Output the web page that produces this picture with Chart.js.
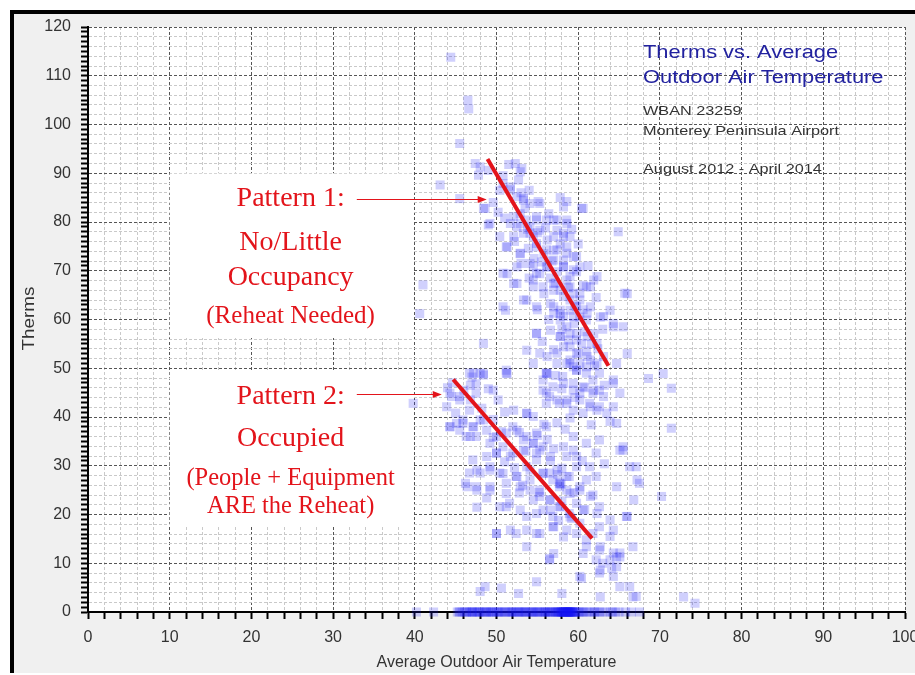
<!DOCTYPE html>
<html>
<head>
<meta charset="utf-8">
<title>Therms vs. Average Outdoor Air Temperature</title>
<script src="https://cdn.jsdelivr.net/npm/chart.js@4.4.0/dist/chart.umd.min.js"></script>
<style>
  html, body { margin: 0; padding: 0; background: #fff; overflow: hidden; }
  #chart { display: block; }
</style>
</head>
<body>
<canvas id="chart" width="915" height="675"></canvas>
<script>
'use strict';

// ---- data (temperature in degF, gas use in therms) ----

const xTickLabels = [0, 10, 20, 30, 40, 50, 60, 70, 80, 90, 100];
const yTickLabels = [0, 10, 20, 30, 40, 50, 60, 70, 80, 90, 100, 110, 120];

// upper cloud: little / no occupancy
const pattern1Temp = [
  44.4, 46.5, 46.6, 45.5, 43.1, 45.5, 47.4, 47.8, 49.0, 50.4,
  52.3, 53.1, 48.4, 49.0, 52.7, 51.7, 53.3, 53.5, 51.7, 52.5,
  52.1, 53.3, 54.1, 54.9, 55.3, 56.4, 57.0, 58.2, 58.6, 60.4,
  57.4, 58.2, 56.2, 51.3, 52.9, 53.9, 54.9, 55.8, 57.0, 58.6,
  59.4, 54.5, 55.3, 56.2, 57.4, 58.2, 59.0, 59.8, 51.3, 52.5,
  54.5, 55.8, 57.0, 58.2, 59.4, 60.2, 61.0, 61.9, 51.1, 53.7,
  57.0, 57.8, 59.0, 60.2, 61.5, 62.7, 63.9, 64.9, 66.0, 40.6,
  41.0, 58.6, 59.8, 57.8, 59.0, 60.4, 61.9, 64.3, 48.4, 54.9,
  56.2, 57.4, 58.6, 59.8, 61.5, 63.1, 64.7, 66.0, 51.3, 48.4,
  47.0, 56.2, 68.6, 70.4, 54.5, 61.0, 57.8, 52.5, 50.4, 52.9,
  54.5, 58.6,
  53.8, 55.0, 56.0, 57.8, 56.8, 55.5, 57.2, 58.8, 59.6, 60.6,
  58.0, 59.5, 60.8, 61.6, 60.0, 61.0, 62.4, 58.8, 57.0, 55.6,
  56.4, 55.0, 54.0, 53.0, 52.2, 51.0, 50.2, 49.6, 50.8, 51.5,
  54.0, 53.0, 57.8, 59.2, 60.0, 61.2, 60.6, 62.2, 63.0, 58.2,
  56.6, 54.6
];
const pattern1Therms = [
  113.8, 105.0, 103.2, 96.1, 87.6, 84.8, 92.0, 89.6, 90.6, 86.5,
  92.0, 91.0, 82.8, 79.4, 88.6, 87.2, 84.8, 82.8, 79.7, 79.0,
  77.0, 77.7, 79.0, 80.4, 83.8, 81.7, 80.4, 83.1, 80.4, 82.8,
  78.3, 77.0, 76.3, 74.9, 73.5, 74.6, 75.6, 73.5, 74.2, 74.9,
  72.9, 70.8, 69.4, 70.8, 69.8, 70.8, 68.8, 69.8, 69.4, 67.4,
  66.7, 65.3, 66.0, 64.7, 65.3, 64.0, 66.7, 68.1, 61.9, 64.0,
  62.6, 61.2, 61.9, 60.5, 62.6, 60.5, 61.9, 78.0, 65.3, 61.2,
  67.1, 58.5, 57.1, 56.5, 54.4, 55.1, 57.1, 58.5, 55.1, 57.1,
  52.4, 51.0, 51.0, 49.6, 51.7, 52.4, 51.0, 53.0, 48.9, 48.9,
  48.2, 48.9, 47.9, 48.9, 51.0, 59.9, 59.9, 70.8, 77.0, 81.7,
  77.0, 68.1,
  78.5, 77.8, 78.8, 75.5, 72.0, 71.8, 67.5, 66.5, 62.8, 62.0,
  58.0, 59.2, 57.5, 55.0, 53.0, 53.5, 54.0, 55.8, 53.8, 55.5,
  60.0, 62.0, 68.5, 71.5, 76.0, 80.8, 82.0, 84.0, 89.5, 91.8,
  86.5, 86.0, 85.0, 78.5, 75.5, 71.0, 67.0, 64.5, 58.0, 72.2,
  68.5, 72.5
];

// more days in the dense part of the upper cloud
const cloud1Temp = [
  52.9, 50.8, 51.7, 52.5, 53.3, 54.1, 55.1, 58.6, 60.6, 48.6,
  49.2, 52.1, 52.9, 53.7, 54.9, 56.1, 57.4, 58.6, 54.1, 55.3,
  57.0, 58.2, 59.0, 51.2, 52.9, 54.9, 56.1, 57.4, 58.6, 59.8,
  54.1, 54.9, 56.1, 57.0, 58.2, 59.4, 60.2, 50.8, 52.1, 54.5,
  55.7, 57.0, 57.8, 59.0, 60.2, 61.5, 62.3, 50.8, 53.3, 54.9,
  56.6, 57.8, 59.0, 59.8, 61.1, 57.0, 58.2, 59.4, 63.1, 64.3,
  65.5, 65.7, 54.9, 56.6, 57.8, 59.0, 59.8, 61.1, 62.3, 53.7,
  55.3, 57.4, 58.2, 59.8, 59.0, 61.1, 48.0
];
const cloud1Therms = [
  90.3, 87.9, 86.6, 85.2, 84.5, 83.8, 84.2, 84.2, 82.8, 82.8,
  79.7, 81.1, 79.7, 80.4, 81.1, 80.4, 80.4, 79.7, 77.7, 78.3,
  77.0, 77.7, 77.0, 74.9, 73.6, 74.9, 74.3, 74.3, 73.6, 72.9,
  71.5, 69.5, 70.8, 72.2, 70.8, 70.2, 70.8, 69.5, 67.4, 68.1,
  66.7, 67.4, 66.0, 66.7, 65.4, 66.7, 68.8, 62.6, 64.0, 62.6,
  63.3, 61.9, 64.0, 62.6, 61.3, 61.3, 60.6, 60.6, 60.6, 59.2,
  58.5, 65.4, 57.2, 57.8, 56.5, 57.2, 55.8, 56.5, 55.1, 53.7,
  53.1, 53.1, 54.4, 53.1, 51.7, 52.4, 91.3
];

// lower cloud: occupied
const pattern2Temp = [
  56.1, 56.9, 58.1, 59.4, 60.2, 61.0, 61.8, 62.6, 64.3, 56.5,
  58.6, 60.2, 61.4, 62.6, 59.4, 60.6, 63.9, 55.7, 61.8, 57.7,
  62.6, 59.4, 56.1,
  44.5, 45.5, 46.7, 47.5, 47.1, 44.3, 45.9, 48.0, 46.7, 51.2,
  39.8, 48.4, 45.5, 47.5,
  49.2, 50.0, 49.2, 46.7, 47.5, 49.2, 50.8, 52.0, 53.3, 54.5,
  55.7, 54.9, 53.7, 52.4, 51.2, 51.6, 50.4, 54.1, 55.3, 56.5,
  56.9, 57.7, 58.6, 56.5, 57.7, 58.9, 59.8, 60.2, 61.0, 62.6,
  60.2, 58.6, 56.9, 54.9, 53.7, 52.4, 50.0, 53.7, 61.0, 56.5,
  54.9, 58.6, 59.8, 61.4, 62.2, 62.6, 65.1, 65.5, 64.7, 65.9,
  64.3, 63.9, 62.6, 67.1, 67.5, 70.2, 71.4, 71.4, 57.7, 57.9,
  55.7, 54.5, 53.7, 59.4, 61.0, 59.4, 43.9, 45.1, 46.3, 48.8,
  50.4, 47.1, 48.0, 52.8, 54.5, 55.7, 56.9, 64.3, 65.1,
  46.0, 47.5, 49.0, 50.2, 51.0, 52.0, 50.6, 49.6, 52.8, 53.6,
  55.0, 56.2, 57.0, 56.6, 58.0, 58.9, 57.5, 59.5, 58.0, 60.8,
  59.2, 57.6, 55.2, 53.2, 52.2, 51.0, 49.6, 48.2, 46.8, 44.6,
  45.0, 44.0, 48.8, 47.6, 46.2, 61.8, 62.2, 63.2, 60.5, 55.8,
  57.4, 59.0, 58.4, 61.6, 63.2, 62.0, 60.8, 59.6, 58.0, 57.2
];
const pattern2Therms = [
  49.0, 46.2, 48.3, 50.3, 51.0, 49.0, 47.6, 45.5, 47.6, 44.2,
  43.5, 44.9, 42.8, 42.1, 41.4, 40.8, 39.1, 45.5, 44.9, 42.8,
  49.0, 46.9, 42.8,
  44.2, 43.5, 41.4, 44.9, 38.0, 38.0, 39.4, 49.0, 49.0, 49.6,
  42.8, 39.4, 37.3, 36.0,
  34.6, 32.6, 29.1, 28.5, 25.7, 25.0, 33.9, 32.6, 35.3, 34.6,
  33.9, 31.2, 29.8, 27.8, 26.4, 22.3, 21.6, 27.1, 25.0, 28.5,
  27.1, 26.4, 25.0, 23.0, 21.6, 20.2, 22.3, 25.7, 27.1, 21.6,
  18.2, 16.8, 17.5, 16.1, 19.6, 16.1, 16.1, 13.4, 13.4, 10.7,
  32.6, 31.9, 29.8, 29.8, 32.6, 35.3, 33.2, 33.9, 25.7, 19.6,
  16.8, 18.9, 17.5, 29.8, 26.4, 23.7, 45.9, 37.7, 25.7, 26.2,
  28.5, 40.1, 40.8, 36.0, 34.6, 33.2, 42.1, 38.7, 36.0, 31.9,
  28.5, 31.2, 28.5, 24.4, 23.0, 20.9, 19.6, 42.1, 44.9,
  45.5, 46.8, 45.8, 43.5, 41.0, 38.0, 37.0, 39.5, 36.8, 33.0,
  36.2, 35.4, 33.5, 31.0, 29.5, 27.8, 28.2, 24.5, 22.8, 21.0,
  19.2, 18.8, 24.5, 26.0, 29.6, 30.8, 35.8, 41.8, 46.5, 47.0,
  40.8, 46.0, 23.4, 21.5, 26.4, 24.0, 27.8, 30.4, 31.0, 38.5,
  38.8, 39.8, 37.5, 38.4, 46.5, 50.5, 46.0, 44.0, 45.8, 48.5
];

// more days in the dense part of the lower cloud
const cloud2Temp = [
  56.1, 59.0, 59.8, 61.0, 62.3, 58.2, 59.4, 60.6, 61.9, 63.1,
  64.3, 56.1, 57.4, 58.6, 60.2, 61.5, 62.3, 63.5, 55.7, 64.7,
  66.3, 67.2, 65.5, 66.0, 66.8, 44.3, 45.5, 46.8, 47.2, 48.4,
  51.2, 49.6, 44.3, 45.9, 47.2, 48.0, 48.8, 46.8, 50.0, 51.2,
  52.5, 53.7, 54.9, 53.7, 52.1, 56.1, 50.0, 51.7, 53.3, 54.5,
  55.3, 56.6, 58.2, 59.8, 47.6, 49.2, 50.8, 52.5, 54.1, 55.7,
  57.4, 58.6, 46.4, 47.6, 49.2, 51.2, 52.9, 54.1, 55.3, 56.6,
  57.8, 59.0, 60.2, 61.5, 51.2, 52.9, 54.9, 56.6, 57.8, 59.0,
  60.6, 62.3, 50.0, 51.7, 53.7, 55.3, 57.0, 58.2, 59.8, 61.0,
  57.0, 60.6, 62.7, 64.7
];
const cloud2Therms = [
  49.0, 51.0, 49.6, 50.3, 51.0, 46.9, 45.5, 46.2, 45.5, 44.2,
  46.9, 44.9, 43.5, 42.8, 43.5, 42.1, 41.4, 40.8, 47.6, 38.7,
  29.8, 27.1, 33.2, 19.6, 23.0, 44.9, 44.2, 43.5, 49.0, 48.6,
  49.0, 45.5, 38.0, 38.7, 38.0, 39.4, 37.3, 36.0, 36.0, 36.7,
  37.3, 36.0, 36.7, 40.7, 41.4, 38.0, 32.6, 31.9, 33.2, 34.6,
  33.2, 31.9, 33.9, 31.9, 29.1, 29.8, 28.4, 27.8, 29.1, 28.4,
  29.1, 27.8, 25.7, 25.0, 25.7, 24.3, 25.7, 25.0, 23.7, 23.0,
  26.4, 24.3, 25.0, 23.7, 21.6, 20.9, 20.2, 20.9, 21.6, 19.5,
  20.9, 20.2, 16.1, 16.8, 16.8, 16.1, 17.5, 15.4, 16.1, 14.8,
  12.0, 12.0, 13.4, 11.3
];

// warm days with little gas
const lowTemp = [
  62.2, 63.0, 63.9, 64.7, 64.3, 65.1, 62.6, 64.3, 66.3, 67.1,
  66.7, 60.2, 62.6, 63.9, 61.8,
  48.0, 48.6, 50.6, 52.7, 54.9, 58.0, 60.4, 62.7, 65.1, 66.7,
  62.7, 64.1, 56.5, 65.1, 72.9, 74.3
];
const lowTherms = [
  10.7, 10.0, 10.7, 9.3, 12.1, 12.1, 8.0, 7.3, 5.2, 3.2,
  13.4, 7.3, 12.7, 15.5, 16.1,
  4.2, 5.2, 4.9, 3.8, 6.2, 3.8, 6.9, 3.1, 5.2, 3.1,
  8.6, 9.0, 11.0, 11.3, 3.1, 1.8
];

// days with zero therms
const idleTemp = [
  40.2, 42.3, 45.2, 45.5, 45.8, 46.1, 46.4, 46.7, 46.9, 47.1,
  47.3, 47.6, 47.8, 48.0, 48.3, 48.5, 48.8, 49.0, 49.2, 49.5,
  49.7, 50.0, 50.2, 50.5, 50.7, 51.1, 51.4, 51.6, 51.8, 52.1,
  52.3, 52.5, 52.8, 53.0, 53.2, 53.4, 53.6, 53.9, 54.1, 54.4,
  54.6, 54.8, 55.0, 55.3, 55.5, 55.8, 56.0, 56.2, 56.3, 56.6,
  56.8, 57.0, 57.2, 57.4, 57.5, 57.6, 57.7, 57.9, 58.0, 58.1,
  58.2, 58.3, 58.4, 58.4, 58.5, 58.6, 58.6, 58.7, 58.8, 58.8,
  58.9, 59.0, 59.0, 59.1, 59.2, 59.3, 59.4, 59.5, 59.7, 60.1,
  60.3, 60.6, 61.1, 61.4, 61.9, 62.3, 62.6, 63.4, 64.2, 64.6,
  65.0, 65.8, 66.5, 67.5,
  45.4, 46.3, 47.0, 47.9, 48.7, 49.4, 50.3, 51.0, 51.9, 52.7,
  53.5, 54.3, 55.1, 55.9, 56.5, 57.3, 57.8, 58.0, 58.2, 58.5,
  58.7, 58.9, 59.1, 59.3, 59.6, 60.0, 60.8, 62.0, 63.0, 64.0
];

// hand-drawn trend lines
const trend1Temp = [48.9, 63.7];
const trend1Therms = [92.9, 50.5];
const trend2Temp = [44.7, 61.7];
const trend2Therms = [47.7, 15.1];

// ---- styling ----

const SANS = "'Liberation Sans', Arial, sans-serif";
const SERIF = "'Liberation Serif', 'Times New Roman', serif";
const POINT_FILL = 'rgba(20,20,245,0.2)';
const RED = '#e3141b';

Chart.defaults.font.family = SANS;

function pts(xs, ys) {
  return xs.map((x, i) => ({ x, y: ys[i] }));
}

function gridColor(c) {
  if (!c.tick) return '#555';
  const v = Math.round(c.tick.value);
  if (v % 10 === 0) return '#555';
  if (v % 2 === 0) return '#c9c9c9';
  return 'rgba(0,0,0,0)';
}

function stretchText(ctx, text, x, y, sx) {
  ctx.save();
  ctx.translate(x, y);
  ctx.scale(sx, 1);
  ctx.fillText(text, 0, 0);
  ctx.restore();
}

function arrow(ctx, x0, x1, y) {
  ctx.beginPath();
  ctx.moveTo(x0, y);
  ctx.lineTo(x1 - 7, y);
  ctx.stroke();
  ctx.beginPath();
  ctx.moveTo(x1, y);
  ctx.lineTo(x1 - 9, y - 3.5);
  ctx.lineTo(x1 - 9, y + 3.5);
  ctx.closePath();
  ctx.fill();
}

// grey panel with a black frame on the top and left, white plot area
const framePlugin = {
  id: 'frame',
  beforeDraw(chart) {
    const { ctx, chartArea: a, width, height } = chart;
    ctx.save();
    ctx.fillStyle = '#fff';
    ctx.fillRect(0, 0, width, height);
    ctx.fillStyle = '#f0f0f0';
    ctx.fillRect(14, 14, width - 14, 659);
    ctx.fillStyle = '#000';
    ctx.fillRect(10, 10, 4, 663);
    ctx.fillRect(10, 10, width - 10, 4);
    ctx.fillStyle = '#fff';
    ctx.fillRect(a.left, a.top, a.right - a.left, a.bottom - a.top);
    ctx.restore();
  }
};

// annotation boxes (data units) and their text lines [text, font px, baseline below box top]
const boxes = [
  { x0: 10, x1: 39.8, top: 90, bottom: 56.2,
    lines: [['Pattern 1:', 28, 33], ['No/Little', 28, 76.5], ['Occupancy', 28, 111.5], ['(Reheat Needed)', 25, 150]] },
  { x0: 10, x1: 39.8, top: 49.6, bottom: 17.8,
    lines: [['Pattern 2:', 28, 33.5], ['Occupied', 28, 76], ['(People + Equipment', 24.5, 115], ['ARE the Reheat)', 24.5, 143]] }
];
const arrows = [
  { from: 32.9, to: 48.8, y: 84.7 },
  { from: 32.9, to: 43.3, y: 44.7 }
];

const notesPlugin = {
  id: 'notes',
  beforeDatasetsDraw(chart) {
    const { ctx, scales: { x, y } } = chart;
    ctx.save();
    ctx.fillStyle = '#fff';
    boxes.forEach(b => {
      const l = x.getPixelForValue(b.x0), r = x.getPixelForValue(b.x1);
      const t = y.getPixelForValue(b.top), btm = y.getPixelForValue(b.bottom);
      ctx.fillRect(l, t, r - l, btm - t);
    });
    ctx.restore();
  },
  afterDraw(chart) {
    const { ctx, chartArea: a, scales: { x, y } } = chart;
    ctx.save();

    // red labels inside the boxes
    ctx.fillStyle = RED;
    ctx.textAlign = 'center';
    ctx.textBaseline = 'alphabetic';
    const cx = x.getPixelForValue(24.8);
    boxes.forEach(b => {
      const t = y.getPixelForValue(b.top);
      b.lines.forEach(([txt, size, dy]) => {
        ctx.font = size + 'px ' + SERIF;
        ctx.fillText(txt, cx, t + dy);
      });
    });

    ctx.strokeStyle = RED;
    ctx.lineWidth = 1.2;
    arrows.forEach(ar => {
      arrow(ctx, x.getPixelForValue(ar.from), x.getPixelForValue(ar.to), Math.round(y.getPixelForValue(ar.y)) + 0.5);
    });

    // title block, top right
    ctx.textAlign = 'left';
    ctx.fillStyle = '#22229f';
    ctx.font = '19px ' + SANS;
    stretchText(ctx, 'Therms vs. Average', 643, 58, 1.15);
    stretchText(ctx, 'Outdoor Air Temperature', 643, 83, 1.15);
    ctx.fillStyle = '#333';
    ctx.font = '13px ' + SANS;
    stretchText(ctx, 'WBAN 23259', 643, 115, 1.25);
    stretchText(ctx, 'Monterey Peninsula Airport', 643, 135, 1.25);
    stretchText(ctx, 'August 2012 - April 2014', 643, 173, 1.25);

    // axis titles
    ctx.fillStyle = '#333';
    ctx.font = '16px ' + SANS;
    ctx.textAlign = 'center';
    ctx.fillText('Average Outdoor Air Temperature', (a.left + a.right) / 2, 667);
    ctx.save();
    ctx.translate(34, (a.top + a.bottom) / 2 - 1);
    ctx.rotate(-Math.PI / 2);
    ctx.scale(1.18, 1);
    ctx.fillText('Therms', 0, 0);
    ctx.restore();

    ctx.restore();
  }
};

const scatterStyle = {
  type: 'scatter',
  pointStyle: 'rect',
  pointRadius: 6.4,
  pointHoverRadius: 6.4,
  backgroundColor: POINT_FILL,
  borderWidth: 0,
  clip: false,
  order: 1
};

const trendStyle = {
  type: 'line',
  borderColor: RED,
  borderWidth: 4,
  pointRadius: 0,
  fill: false,
  order: 0
};

new Chart(document.getElementById('chart'), {
  type: 'scatter',
  data: {
    datasets: [
      { ...trendStyle, data: pts(trend1Temp, trend1Therms) },
      { ...trendStyle, data: pts(trend2Temp, trend2Therms) },
      { ...scatterStyle, data: pts(pattern1Temp, pattern1Therms) },
      { ...scatterStyle, data: pts(cloud1Temp, cloud1Therms) },
      { ...scatterStyle, data: pts(pattern2Temp, pattern2Therms) },
      { ...scatterStyle, data: pts(cloud2Temp, cloud2Therms) },
      { ...scatterStyle, data: pts(lowTemp, lowTherms) },
      { ...scatterStyle, data: idleTemp.map(t => ({ x: t, y: 0 })) }
    ]
  },
  options: {
    responsive: false,
    animation: false,
    events: [],
    layout: { padding: { left: 28, right: 10, top: 27, bottom: 13 } },
    plugins: {
      legend: { display: false },
      tooltip: { enabled: false }
    },
    scales: {
      x: {
        type: 'linear',
        min: 0,
        max: 100,
        // let the "100" label run off the right edge, as in the original
        afterFit: s => { s.height = 50; s.paddingLeft = 0; s.paddingRight = 0; },
        ticks: {
          stepSize: 2,
          autoSkip: false,
          maxRotation: 0,
          minRotation: 0,
          padding: 9,
          color: '#333',
          font: { size: 16 },
          callback: v => xTickLabels.includes(v) ? String(v) : ''
        },
        grid: {
          color: gridColor,
          lineWidth: 1,
          tickLength: 7,
          tickColor: '#000',
          tickWidth: 2
        },
        border: { display: true, color: '#000', width: 2, dash: [3, 2] }
      },
      y: {
        type: 'linear',
        min: 0,
        max: 120,
        afterFit: s => { s.width = 60; },
        ticks: {
          stepSize: 1,
          autoSkip: false,
          padding: 10,
          color: '#333',
          font: { size: 16 },
          callback: v => yTickLabels.includes(v) ? String(v) : ''
        },
        grid: {
          color: gridColor,
          lineWidth: 1,
          tickLength: 7,
          tickColor: '#000',
          tickWidth: 2
        },
        border: { display: true, color: '#000', width: 2, dash: [3, 2] }
      }
    }
  },
  plugins: [framePlugin, notesPlugin]
});
</script>
</body>
</html>
